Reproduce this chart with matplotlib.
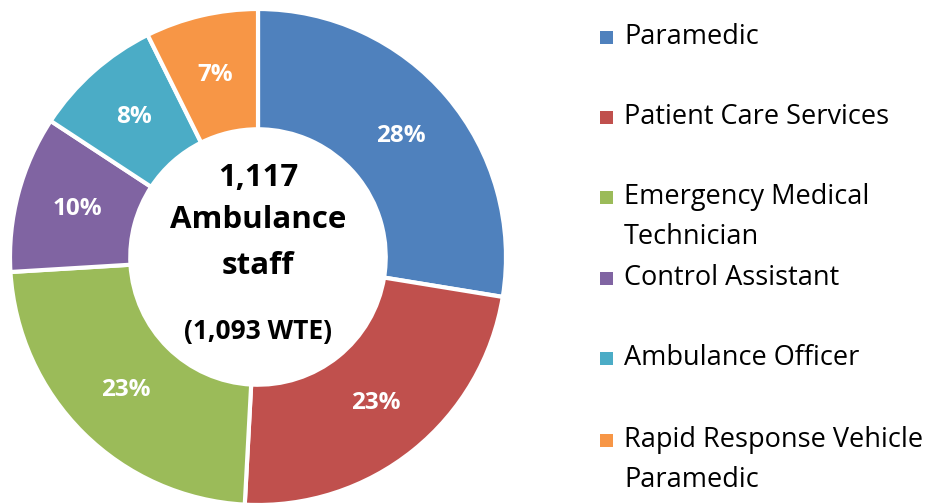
import matplotlib
matplotlib.use("Agg")
import matplotlib.pyplot as plt
from matplotlib.patches import Rectangle

plt.rcParams['font.family'] = ['Open Sans', 'DejaVu Sans']

# Ambulance staff headcount by role
roles = ["Paramedic", "Patient Care Services", "Emergency Medical\nTechnician",
         "Control Assistant", "Ambulance Officer", "Rapid Response Vehicle\nParamedic"]
headcount = [308, 260, 259, 114, 94, 82]
colors = ["#4F81BD", "#C0504D", "#9BBB59", "#8064A2", "#4BACC6", "#F79646"]
total_staff = "1,117"
total_wte = "1,093"

W, H = 936, 504
fig = plt.figure(figsize=(W / 100, H / 100), dpi=100)

# donut axes: centre (258, 257) px from top-left, radius 248 px
cx, cy, r = 258, 257, 248
ax = fig.add_axes([(cx - r) / W, (H - cy - r) / H, 2 * r / W, 2 * r / H])
wedges, texts, autotexts = ax.pie(
    headcount, colors=colors, startangle=90, counterclock=False,
    radius=1.0, autopct=lambda p: "%.0f%%" % p, pctdistance=0.755,
    wedgeprops=dict(width=0.485, edgecolor="white", linewidth=3),
    textprops=dict(color="white", fontsize=17.5, fontweight="bold"))
ax.set_xlim(-1, 1)
ax.set_ylim(-1, 1)
ax.axis("off")

ax.text(0, 0.32, total_staff, ha="center", va="center", fontsize=22.5, fontweight="bold")
ax.text(0, 0.15, "Ambulance", ha="center", va="center", fontsize=22.5, fontweight="bold")
ax.text(0, -0.035, "staff", ha="center", va="center", fontsize=22.5, fontweight="bold")
ax.text(0, -0.30, "(%s WTE)" % total_wte, ha="center", va="center", fontsize=19, fontweight="bold")

# legend drawn by hand: 80 px per entry, wrapped lines 40 px apart
y_px = [37, 117, 197, 278, 358, 440]
for name, col, y in zip(roles, colors, y_px):
    fig.patches.append(Rectangle((600 / W, (H - y - 7) / H), 13 / W, 13 / H,
                                 transform=fig.transFigure, facecolor=col, edgecolor="none"))
    for k, line in enumerate(name.split("\n")):
        fig.text(624 / W, (H - y - 40 * k) / H, line, ha="left", va="center", fontsize=19.5)

fig.savefig("out.png", dpi=100)
